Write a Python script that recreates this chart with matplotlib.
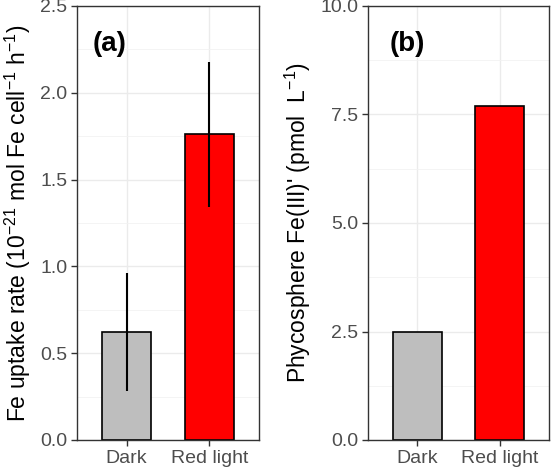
import numpy as np
import matplotlib
matplotlib.use("Agg")
import matplotlib.pyplot as plt

plt.rcParams['font.family'] = ['Liberation Sans', 'DejaVu Sans']
plt.rcParams['mathtext.default'] = 'regular'

# data
groups = ['Dark', 'Red light']
colors = ['#BEBEBE', '#FF0000']
uptake = [0.62, 1.76]
uptake_err = [0.34, 0.415]
fe3 = [2.5, 7.7]

fig = plt.figure(figsize=(5.53, 4.70), dpi=100)
ax1 = fig.add_axes([77 / 553, 30 / 470, 182 / 553, 434 / 470])
ax2 = fig.add_axes([368 / 553, 30 / 470, 181 / 553, 434 / 470])


def style(ax, ymax, major, label, tag, tagx):
    x = np.arange(1, len(groups) + 1)
    ax.set_xlim(0.4, 2.6)
    ax.set_ylim(0, ymax)
    ax.set_yticks(np.arange(0, ymax + major / 2, major))
    ax.set_yticks(np.arange(major / 2, ymax, major), minor=True)
    ax.set_xticks(x)
    ax.set_xticklabels(groups)
    ax.grid(True, which='major', color='#EBEBEB', lw=1.0, zorder=0)
    ax.grid(True, which='minor', axis='y', color='#F2F2F2', lw=0.6, zorder=0)
    ax.set_axisbelow(True)
    for s in ax.spines.values():
        s.set_color('#333333')
        s.set_linewidth(1.0)
    ax.tick_params(axis='both', which='major', labelsize=14, colors='#333333',
                   labelcolor='#4D4D4D', length=4, width=1, pad=3)
    ax.tick_params(axis='y', which='minor', length=0)
    ax.set_ylabel(label, fontsize=16.5, color='black', labelpad=5)
    ax.text(tagx, 0.913, tag, transform=ax.transAxes, fontsize=20,
            fontweight='bold', ha='center', va='center')


x = np.arange(1, len(groups) + 1)
ax1.bar(x, uptake, width=0.6, color=colors, edgecolor='black', lw=1.2, zorder=2)
ax1.errorbar(x, uptake, yerr=uptake_err, fmt='none', ecolor='black',
             elinewidth=1.5, capsize=0, zorder=3)
style(ax1, 2.5, 0.5, 'Fe uptake rate (10$^{-21}$ mol Fe cell$^{-1}$ h$^{-1}$)', '(a)', 0.18)
ax1.set_yticklabels(['0.0', '0.5', '1.0', '1.5', '2.0', '2.5'])

ax2.bar(x, fe3, width=0.6, color=colors, edgecolor='black', lw=1.2, zorder=2)
style(ax2, 10, 2.5, "Phycosphere Fe(III)' (pmol  L$^{-1}$)", '(b)', 0.218)
ax2.set_yticklabels(['0.0', '2.5', '5.0', '7.5', '10.0'])

fig.savefig('out.png', dpi=100)
